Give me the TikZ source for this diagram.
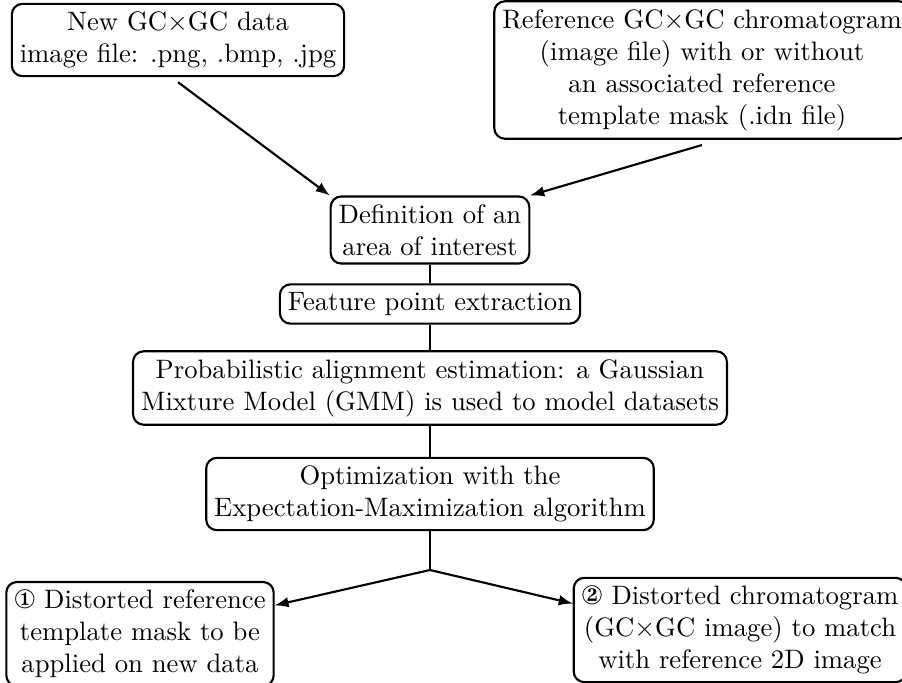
\documentclass[tikz,border=0pt]{standalone}
\usepackage{pifont}
\usepackage{amsmath,amssymb}
\usetikzlibrary{arrows}

\begin{document}
\begin{tikzpicture}[x=0.375pt,y=-0.375pt,
  etape/.style={draw,thick,rounded corners=4pt,align=center,inner sep=3pt}]
\useasboundingbox (0,0) rectangle (902,683);
% les donnees d'entree
\node[etape] (nouv) at (178,40) {New GC$\times$GC data\\image file: .png, .bmp, .jpg};
\node[etape] (ref) at (702,70) {Reference GC$\times$GC chromatogram\\(image file) with or without\\an associated reference\\template mask (.idn file)};
% la chaine de traitement
\node[etape] (zone) at (430,230) {Definition of an\\area of interest};
\node[etape] (feat) at (430,304) {Feature point extraction};
\node[etape] (proba) at (430,388) {Probabilistic alignment estimation: a Gaussian\\Mixture Model (GMM) is used to model datasets};
\node[etape] (optim) at (430,494) {Optimization with the\\Expectation-Maximization algorithm};
% les sorties
\node[etape] (masque) at (140,634) {\ding{172} Distorted reference\\template mask to be\\applied on new data};
\node[etape] (chrom) at (740,630) {\ding{173} Distorted chromatogram\\(GC$\times$GC image) to match\\with reference 2D image};
\coordinate (fourche) at (430,570);
\draw [thick,->,>=latex] (nouv.south)++(0,5) -- (zone.north west);
\draw [thick,->,>=latex] (ref) ++(0,75) -- (zone.north east);
\draw [thick] (zone) -- (feat);
\draw [thick] (feat) -- (proba);
\draw [thick] (proba) -- (optim);
\draw [thick] (optim) -- (fourche);
\draw [thick,->,>=latex] (fourche) -- (masque.12);
\draw [thick,->,>=latex] (fourche) -- (chrom.171);
\end{tikzpicture}
\end{document}
